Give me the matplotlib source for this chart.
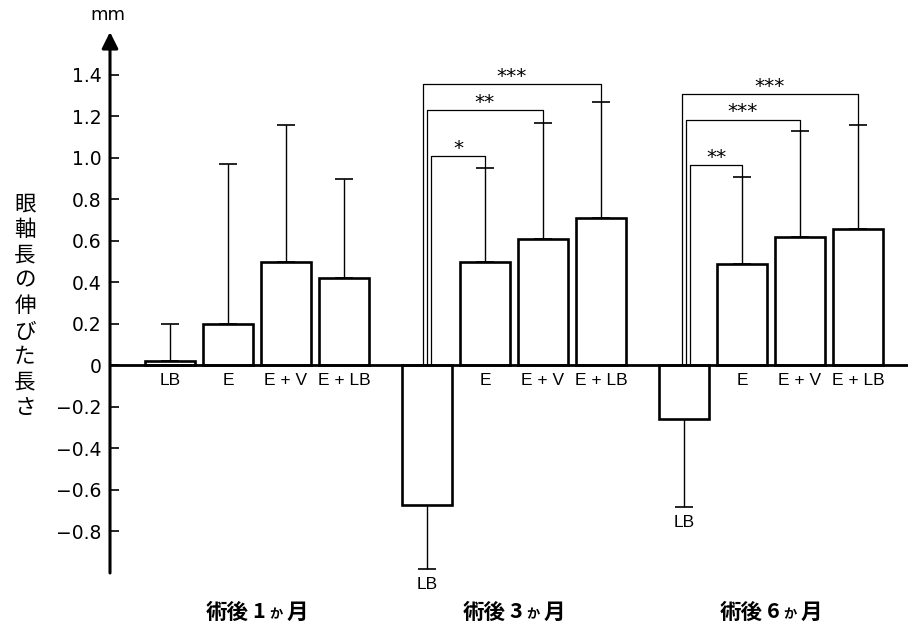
import matplotlib
matplotlib.use('Agg')
import matplotlib.pyplot as plt
from matplotlib.offsetbox import TextArea, HPacker, AnnotationBbox
import numpy as np

# ---------------- data ----------------
groups = ['術後1か月', '術後3か月', '術後6か月']
categories = ['LB', 'E', 'E + V', 'E + LB']

means_1m = [0.02, 0.20, 0.50, 0.42]
sd_1m = [0.18, 0.77, 0.66, 0.48]
means_3m = [-0.67, 0.50, 0.61, 0.71]
sd_3m = [0.31, 0.45, 0.56, 0.56]
means_6m = [-0.26, 0.49, 0.62, 0.66]
sd_6m = [0.42, 0.42, 0.51, 0.50]

sig_targets = [1, 2, 3]              # LB compared with E, E+V, E+LB
sig_3m_heights = [1.01, 1.23, 1.355]
sig_3m_marks = ['*', '**', '***']
sig_6m_heights = [0.965, 1.185, 1.31]
sig_6m_marks = ['**', '***', '***']

yticks = [-0.8, -0.6, -0.4, -0.2, 0, 0.2, 0.4, 0.6, 0.8, 1.0, 1.2, 1.4]
ytick_labels = ['−0.8', '−0.6', '−0.4', '−0.2', '0', '0.2', '0.4', '0.6',
                '0.8', '1.0', '1.2', '1.4']
ylabel = '眼軸長の伸びた長さ'
unit = 'mm'

# ---------------- figure ----------------
W, H = 908, 642
fig = plt.figure(figsize=(W / 100, H / 100), dpi=100)
ax = fig.add_axes([110 / W, (H - 573) / H, (W - 110) / W, (573 - 32) / H])
ax.set_xlim(-1.034, 12.724)
ax.set_ylim(-1.0, 1.607)

for s in ax.spines.values():
    s.set_visible(False)

gap = 0.43
width = 0.87
all_means = [means_1m, means_3m, means_6m]
all_sds = [sd_1m, sd_3m, sd_6m]
positions = []
for g in range(len(groups)):
    xs = g * (len(categories) + gap) + np.arange(len(categories))
    positions.append(xs)
    m = np.array(all_means[g])
    s = np.array(all_sds[g])
    ax.bar(xs, m, width, color='white', edgecolor='black', linewidth=1.9, zorder=3)
    lower = np.where(m < 0, s, 0)
    upper = np.where(m >= 0, s, 0)
    ax.errorbar(xs, m, yerr=[lower, upper], fmt='none', ecolor='black',
                elinewidth=1.0, capsize=6.5, capthick=1.2, zorder=2)
    for x, mv, sv, cat in zip(xs, m, s, categories):
        if mv >= 0:
            ax.annotate(cat, xy=(x, 0), xytext=(0, -5.5), textcoords='offset points',
                        ha='center', va='top', fontsize=12.5, family='Liberation Sans')
        else:
            ax.annotate(cat, xy=(x, mv - sv), xytext=(0, -6), textcoords='offset points',
                        ha='center', va='top', fontsize=12.5, family='Liberation Sans')

ax.axhline(0, color='black', lw=2.0, zorder=4)

# significance brackets
for g, heights, marks, shift in [(1, sig_3m_heights, sig_3m_marks, 0.0),
                                  (2, sig_6m_heights, sig_6m_marks, 0.04)]:
    xs = positions[g]
    offs = [0.07, 0.0, -0.07]
    for k, (j, h, mk) in enumerate(zip(sig_targets, heights, marks)):
        xl = xs[0] + offs[k] + shift
        xr = xs[j]
        top_err = all_means[g][j] + all_sds[g][j]
        ax.plot([xl, xl, xr, xr], [0, h, h, top_err], color='black', lw=0.9, zorder=1)
        ax.annotate(mk, xy=((xl + xr) / 2, h), xytext=(0, 1.5), textcoords='offset points',
                    ha='center', va='baseline', fontsize=14.5)

# y axis with arrow
ax.annotate('', xy=(0, 1), xytext=(0, 0), xycoords='axes fraction',
            arrowprops=dict(arrowstyle='-|>,head_length=0.7,head_width=0.35',
                            lw=2.2, color='black', mutation_scale=14,
                            shrinkA=0, shrinkB=0))
ax.set_yticks(yticks, ytick_labels)
ax.tick_params(axis='y', direction='in', length=6.5, width=1.2, pad=6, labelsize=13.5)
ax.set_xticks([])

fig.text(108 / W, 1 - 15 / H, unit, ha='center', va='center', fontsize=13)

# vertical stacked y label
for i, c in enumerate(ylabel):
    fig.text(25 / W, 1 - (204 + i * 25.5) / H, c, fontsize=15.5,
             family=['Noto Sans CJK JP', 'DejaVu Sans'], ha='center', va='center')

# group labels
for g, name in enumerate(groups):
    fam = ['Noto Sans CJK JP', 'DejaVu Sans']
    box = HPacker(children=[
        TextArea(name[:-3], textprops=dict(fontsize=15.5, fontweight='bold', family=fam)),
        TextArea(name[-3], textprops=dict(fontsize=15.5, fontweight='bold', family=fam)),
        TextArea(name[-2], textprops=dict(fontsize=9.5, fontweight='bold', family=fam)),
        TextArea(name[-1], textprops=dict(fontsize=15.5, fontweight='bold', family=fam)),
    ], align='baseline', pad=0, sep=3)
    ab = AnnotationBbox(box, (positions[g].mean(), (H - 612) / H),
                        xycoords=('data', 'figure fraction'), frameon=False,
                        box_alignment=(0.5, 0.5), annotation_clip=False)
    ax.add_artist(ab)

fig.savefig('out.png', dpi=100)
